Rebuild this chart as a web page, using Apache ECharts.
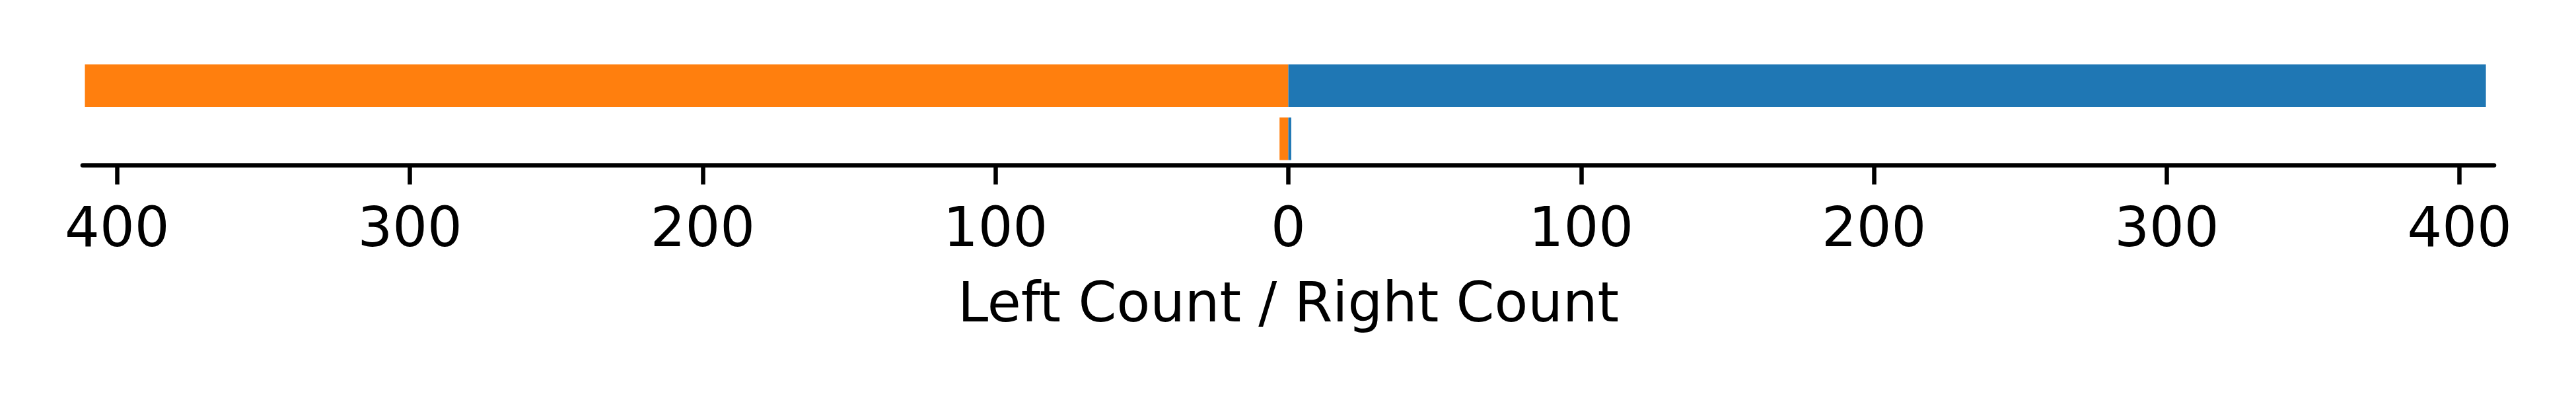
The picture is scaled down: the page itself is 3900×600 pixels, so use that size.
<!DOCTYPE html>
<html>
<head>
<meta charset="utf-8">
<script src="https://cdn.jsdelivr.net/npm/echarts@6/dist/echarts.min.js"></script>
<style>
html,body{margin:0;padding:0;background:#fff;}
#main{width:3900px;height:600px;}
</style>
</head>
<body>
<div id="main"></div>
<script>
// Data
var categories = ['Row 1', 'Row 2'];
var leftCounts = [411, 3];
var rightCounts = [409, 1];
var tickValues = [-400, -300, -200, -100, 0, 100, 200, 300, 400];
var axisName = 'Left Count / Right Count';

var font = 'DejaVu Sans';
var fontSize = 83;

// Measure how far the glyph tops sit above the 'middle' baseline, so the
// label box can be placed to put ink where the reference has it.
function inkAboveMiddle(text, fallback) {
  try {
    var c = document.createElement('canvas').getContext('2d');
    c.font = fontSize + 'px "' + font + '"';
    c.textBaseline = 'middle';
    var m = c.measureText(text);
    if (m && isFinite(m.actualBoundingBoxAscent)) return m.actualBoundingBoxAscent;
  } catch (e) {}
  return fallback;
}
var axisY = 250.5;
var labelMargin = 310 - axisY - fontSize / 2 + inkAboveMiddle('400', 31.8);
var nameGap = 426 - axisY - fontSize / 2 + inkAboveMiddle('L', 31.8);

var chart = echarts.init(document.getElementById('main'), null, {renderer: 'canvas'});
chart.setOption({
  animation: false,
  backgroundColor: '#ffffff',
  grid: {left: 125, right: 124, top: 89.5, bottom: 349.5, containLabel: false},
  xAxis: {
    type: 'value',
    min: -411.8,
    max: 411.8,
    name: axisName,
    nameLocation: 'middle',
    nameGap: nameGap,
    nameTextStyle: {fontFamily: font, fontSize: fontSize, color: '#000'},
    axisLine: {show: true, onZero: false, lineStyle: {color: '#000', width: 6.5}},
    axisTick: {show: true, length: 29, lineStyle: {color: '#000', width: 6.5}, customValues: tickValues},
    axisLabel: {show: true, margin: labelMargin, fontFamily: font, fontSize: fontSize, color: '#000',
      customValues: tickValues,
      formatter: function (v) { return String(Math.abs(v)); }},
    splitLine: {show: false}
  },
  yAxis: {
    type: 'category',
    data: categories,
    inverse: true,
    show: false
  },
  series: [
    {
      name: 'Left',
      type: 'bar',
      data: leftCounts.map(function (v) { return -v; }),
      barWidth: '80%',
      barGap: '-100%',
      itemStyle: {color: '#ff7f0e'}
    },
    {
      name: 'Right',
      type: 'bar',
      data: rightCounts,
      barWidth: '80%',
      barGap: '-100%',
      itemStyle: {color: '#1f77b4'}
    }
  ]
});
</script>
</body>
</html>
